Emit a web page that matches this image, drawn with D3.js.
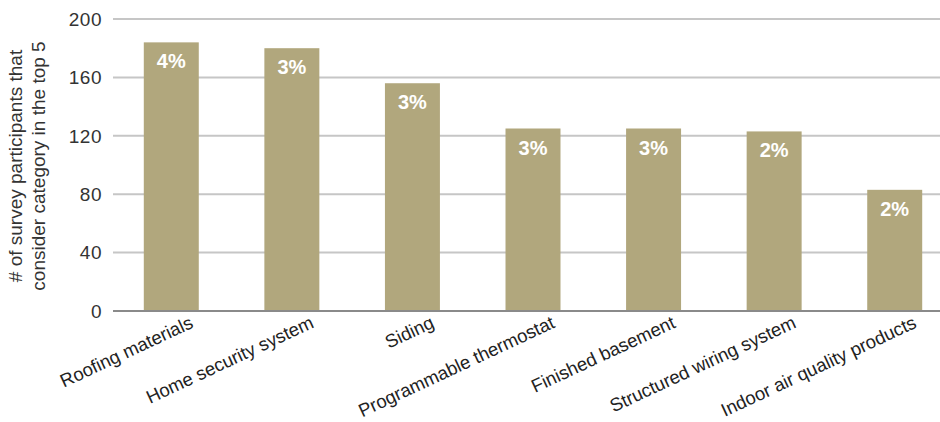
<!DOCTYPE html>
<html>
<head>
<meta charset="utf-8">
<script src="https://cdn.jsdelivr.net/npm/d3@7"></script>
<style>
  body { margin: 0; background: #fff; }
  svg { display: block; font-family: "Helvetica Neue", Helvetica, Arial, "Liberation Sans", sans-serif; }
</style>
</head>
<body>
<svg width="940" height="422"></svg>
<script>
const categories = [
  "Roofing materials",
  "Home security system",
  "Siding",
  "Programmable thermostat",
  "Finished basement",
  "Structured wiring system",
  "Indoor air quality products",
];
const counts = [184, 180, 156, 125, 125, 123, 83];
const shares = ["4%", "3%", "3%", "3%", "3%", "2%", "2%"];
const yTicks = [0, 40, 80, 120, 160, 200];

const svg = d3.select("svg");
const data = categories.map((c, i) => ({ cat: c, n: counts[i], pct: shares[i] }));

const gridLeft = 113;
const gridRight = 940;

const x = d3.scaleBand()
  .domain(categories)
  .range([111, 955])
  .paddingInner(0.544)
  .paddingOuter(0.272);

const y = d3.scaleLinear().domain([0, 200]).range([311, 19]);

// gridlines
svg.append("g")
  .selectAll("line")
  .data(yTicks.filter((t) => t > 0))
  .enter()
  .append("line")
  .attr("x1", gridLeft)
  .attr("x2", gridRight)
  .attr("y1", (d) => y(d))
  .attr("y2", (d) => y(d))
  .attr("stroke", "#c6c6c6")
  .attr("stroke-width", 2);

// y tick labels
svg.append("g")
  .selectAll("text")
  .data(yTicks)
  .enter()
  .append("text")
  .attr("x", 102)
  .attr("y", (d) => y(d))
  .attr("dy", "0.36em")
  .attr("text-anchor", "end")
  .attr("fill", "#333")
  .style("font-size", "19px")
  .style("letter-spacing", "0.5px")
  .text((d) => d);

// bars
svg.append("g")
  .selectAll("rect")
  .data(data)
  .enter()
  .append("rect")
  .attr("x", (d) => x(d.cat))
  .attr("y", (d) => y(d.n))
  .attr("width", x.bandwidth())
  .attr("height", (d) => y(0) - y(d.n))
  .attr("fill", "#b1a77d");

// baseline
svg.append("line")
  .attr("x1", gridLeft)
  .attr("x2", gridRight)
  .attr("y1", y(0))
  .attr("y2", y(0))
  .attr("stroke", "#8a8a8a")
  .attr("stroke-width", 2);

// value labels
svg.append("g")
  .selectAll("text")
  .data(data)
  .enter()
  .append("text")
  .attr("x", (d) => x(d.cat) + x.bandwidth() / 2)
  .attr("y", (d) => y(d.n) + 26)
  .attr("text-anchor", "middle")
  .attr("fill", "#fff")
  .style("font-size", "20px")
  .style("font-weight", "bold")
  .text((d) => d.pct);

// category labels
svg.append("g")
  .selectAll("text")
  .data(data)
  .enter()
  .append("text")
  .attr("transform", (d) => `translate(${x(d.cat) + x.bandwidth() / 2 + 23},${y(0) + 16}) rotate(-25)`)
  .attr("text-anchor", "end")
  .attr("fill", "#222")
  .style("font-size", "18.5px")
  .text((d) => d.cat);

// y axis title
const title = svg.append("text")
  .attr("transform", "translate(27,166) rotate(-90)")
  .attr("text-anchor", "middle")
  .attr("fill", "#333")
  .style("font-size", "19px");
title.append("tspan").attr("x", 0).attr("dy", "-0.25em").text("# of survey participants that");
title.append("tspan").attr("x", 0).attr("dy", "1.2em").text("consider category in the top 5");
</script>
</body>
</html>
